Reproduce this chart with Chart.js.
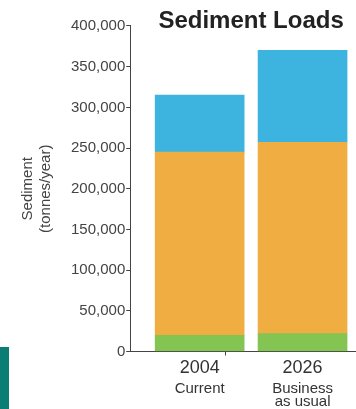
<!DOCTYPE html>
<html lang="en">
<head>
    <meta charset="UTF-8">
    <title>Sediment Loads</title>
    <script src="https://cdn.jsdelivr.net/npm/chart.js"></script>
    <style>
        body {
            margin: 0;
            padding: 0;
            background-color: #ffffff;
            overflow: hidden;
        }
        .wrap {
            position: relative;
            width: 372px;
            height: 409px;
        }
        .side-strip {
            position: absolute;
            left: 0;
            top: 347px;
            width: 9px;
            height: 62px;
            background-color: #0a7e75;
        }
    </style>
</head>
<body>
    <div class="wrap">
        <canvas id="sediment-chart" width="372" height="409"></canvas>
        <div class="side-strip"></div>
    </div>

    <script>
        const years = ['2004', '2026'];
        const scenarios = [['Current'], ['Business', 'as usual']];
        const bottomLoad = [20000, 22000];
        const middleLoad = [225000, 235000];
        const topLoad = [70000, 113000];
        const yTicks = [0, 50000, 100000, 150000, 200000, 250000, 300000, 350000, 400000];

        const green = '#83c452';
        const orange = '#f0ae42';
        const blue = '#3cb4df';
        const axisColor = '#444444';
        const fontFamily = "'Liberation Sans', Arial, sans-serif";

        // bars sit at positions 1 and 2 on a linear x scale
        function toPoints(values) {
            return values.map((v, i) => ({ x: i + 1, y: v }));
        }

        const ctx = document.getElementById('sediment-chart').getContext('2d');
        new Chart(ctx, {
            type: 'bar',
            data: {
                datasets: [
                    { label: 'bottom', data: toPoints(bottomLoad), backgroundColor: green },
                    { label: 'middle', data: toPoints(middleLoad), backgroundColor: orange },
                    { label: 'top', data: toPoints(topLoad), backgroundColor: blue }
                ]
            },
            options: {
                responsive: false,
                animation: false,
                barThickness: 89,
                layout: { padding: { left: 19, right: 0, top: 0, bottom: -0.6 } },
                plugins: {
                    legend: { display: false },
                    tooltip: { enabled: false },
                    title: {
                        display: true,
                        text: 'Sediment Loads',
                        fullSize: false,
                        color: '#222222',
                        font: { family: fontFamily, size: 24, weight: 'bold', lineHeight: 1.2 },
                        padding: { top: 6.6, bottom: -9.4 }
                    }
                },
                scales: {
                    x: {
                        type: 'linear',
                        stacked: true,
                        offset: false,
                        min: 0.3252,
                        max: 2.6748,
                        afterBuildTicks: (scale) => {
                            scale.ticks = [{ value: 1 }, { value: 1.5 }, { value: 2 }];
                        },
                        ticks: {
                            color: '#333333',
                            padding: 2,
                            maxRotation: 0,
                            autoSkip: false,
                            font: { family: fontFamily, size: 18, lineHeight: 1.2 },
                            callback: (value) => {
                                const i = Math.round(value) - 1;
                                return Number.isInteger(value) && years[i] ? years[i] : '';
                            }
                        },
                        grid: {
                            drawOnChartArea: false,
                            tickLength: 4,
                            color: (c) => (c.tick && c.tick.value === 1.5 ? axisColor : 'rgba(0,0,0,0)')
                        },
                        border: { display: true, color: axisColor, width: 1 }
                    },
                    x2: {
                        type: 'linear',
                        position: 'bottom',
                        offset: false,
                        min: 0.3252,
                        max: 2.6748,
                        afterBuildTicks: (scale) => {
                            scale.ticks = [{ value: 1 }, { value: 2 }];
                        },
                        ticks: {
                            color: '#333333',
                            padding: 1.5,
                            maxRotation: 0,
                            autoSkip: false,
                            font: { family: fontFamily, size: 15, lineHeight: 0.85 },
                            callback: (value) => scenarios[Math.round(value) - 1] || ''
                        },
                        grid: { display: false, drawTicks: false },
                        border: { display: false }
                    },
                    y: {
                        stacked: true,
                        min: 0,
                        max: 400000,
                        afterBuildTicks: (scale) => {
                            scale.ticks = yTicks.map(v => ({ value: v }));
                        },
                        ticks: {
                            color: axisColor,
                            padding: 1,
                            font: { family: fontFamily, size: 15 },
                            callback: (value) => value.toLocaleString('en-US')
                        },
                        grid: {
                            drawOnChartArea: false,
                            tickLength: 4,
                            color: axisColor
                        },
                        border: { display: true, color: axisColor, width: 1 },
                        title: {
                            display: true,
                            text: ['Sediment', '(tonnes/year)'],
                            color: axisColor,
                            font: { family: fontFamily, size: 15, lineHeight: 1.2 },
                            padding: { top: 0, bottom: 15 }
                        }
                    }
                }
            }
        });
    </script>
</body>
</html>
